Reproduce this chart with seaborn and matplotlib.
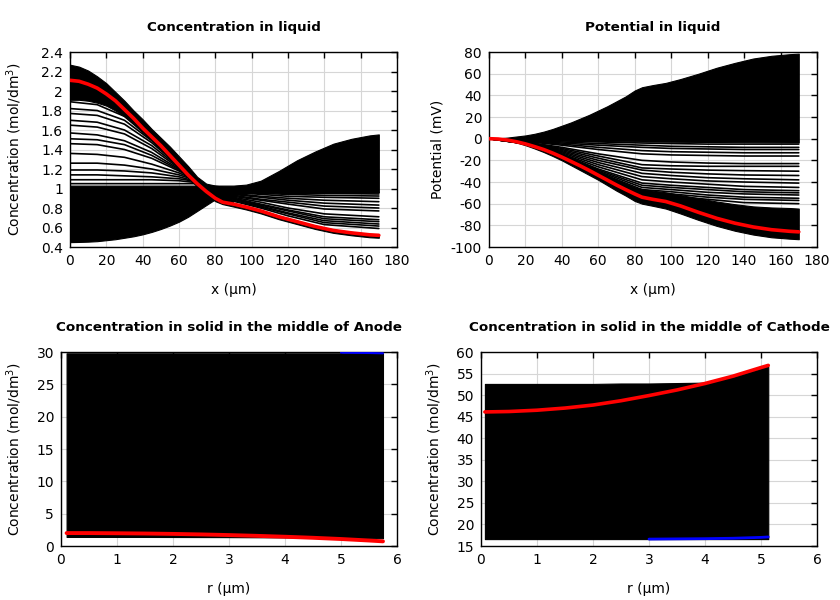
import numpy as np
import pandas as pd
import matplotlib
matplotlib.use("Agg")
import matplotlib.pyplot as plt
from matplotlib.ticker import MultipleLocator, FuncFormatter
import seaborn as sns

# ---- datos ----
# perfiles en el liquido (x en um)
x_fine = [0, 5, 10, 15, 20, 25, 30, 35, 40, 45, 50, 55, 60, 65, 70, 75, 80, 84,
          90, 97, 105, 115, 125, 135, 145, 155, 165, 170]

conc_red = [2.11, 2.10, 2.07, 2.03, 1.97, 1.90, 1.81, 1.72, 1.62, 1.53, 1.44, 1.34, 1.24, 1.14,
            1.05, 0.97, 0.90, 0.86, 0.84, 0.81, 0.77, 0.71, 0.66, 0.61, 0.57, 0.545, 0.525, 0.52]
conc_hi_top = [2.27, 2.25, 2.21, 2.15, 2.08, 1.99, 1.90, 1.80, 1.71, 1.61, 1.52, 1.43, 1.33, 1.23,
               1.12, 1.05, 1.03, 1.02, 0.85, 0.82, 0.78, 0.72, 0.67, 0.62, 0.58, 0.555, 0.535, 0.53]
conc_hi_bot = [1.91, 1.91, 1.90, 1.88, 1.85, 1.80, 1.74, 1.67, 1.58, 1.50, 1.41, 1.31, 1.21, 1.11,
               1.02, 0.94, 0.87, 0.84, 0.815, 0.785, 0.745, 0.685, 0.635, 0.585, 0.545, 0.52, 0.50, 0.495]
conc_lo_top = [1.03, 1.03, 1.03, 1.03, 1.03, 1.03, 1.03, 1.03, 1.03, 1.03, 1.03, 1.03, 1.03, 1.03,
               1.03, 1.03, 1.03, 1.03, 1.03, 1.04, 1.08, 1.18, 1.29, 1.38, 1.46, 1.51, 1.545, 1.555]
conc_lo_bot = [0.45, 0.452, 0.455, 0.46, 0.47, 0.48, 0.495, 0.51, 0.53, 0.555, 0.585, 0.62, 0.66, 0.71,
               0.77, 0.83, 0.89, 0.90, 0.93, 0.955, 0.965, 0.965, 0.963, 0.962, 0.961, 0.96, 0.96, 0.96]

x_conc_lines = [0, 15, 30, 45, 60, 70, 80, 90, 105, 120, 140, 170]
conc_lines = [
    [1.89, 1.86, 1.74, 1.50, 1.22, 1.06, 0.93, 0.87, 0.80, 0.72, 0.63, 0.59],
    [1.82, 1.80, 1.70, 1.49, 1.23, 1.07, 0.94, 0.88, 0.81, 0.74, 0.65, 0.615],
    [1.77, 1.75, 1.66, 1.47, 1.23, 1.07, 0.95, 0.89, 0.82, 0.75, 0.67, 0.636],
    [1.70, 1.68, 1.60, 1.44, 1.22, 1.08, 0.95, 0.90, 0.83, 0.77, 0.69, 0.66],
    [1.65, 1.63, 1.56, 1.41, 1.21, 1.08, 0.96, 0.90, 0.84, 0.78, 0.71, 0.68],
    [1.57, 1.55, 1.49, 1.37, 1.20, 1.08, 0.96, 0.91, 0.86, 0.80, 0.74, 0.71],
    [1.51, 1.50, 1.45, 1.34, 1.19, 1.08, 0.97, 0.92, 0.88, 0.84, 0.79, 0.77],
    [1.46, 1.45, 1.40, 1.31, 1.18, 1.08, 0.97, 0.93, 0.89, 0.86, 0.82, 0.80],
    [1.36, 1.35, 1.32, 1.25, 1.16, 1.08, 0.97, 0.94, 0.91, 0.88, 0.85, 0.83],
    [1.26, 1.26, 1.24, 1.20, 1.14, 1.08, 0.98, 0.95, 0.92, 0.90, 0.88, 0.865],
    [1.19, 1.19, 1.18, 1.16, 1.12, 1.07, 0.98, 0.96, 0.94, 0.92, 0.91, 0.90],
    [1.14, 1.14, 1.13, 1.12, 1.10, 1.07, 0.99, 0.96, 0.95, 0.94, 0.93, 0.923],
    [1.09, 1.09, 1.09, 1.09, 1.08, 1.06, 0.99, 0.97, 0.96, 0.95, 0.95, 0.944],
    [1.05, 1.05, 1.05, 1.05, 1.05, 1.05, 1.00, 0.97, 0.965, 0.96, 0.96, 0.96],
]

# potencial en el liquido (mV)
pot_red = [0, -0.3, -1.2, -2.8, -4.8, -7.3, -10, -13.3, -17, -21, -25, -29.3, -33.8, -38.3,
           -42.8, -47, -51, -54, -56, -58, -62, -68, -73.5, -78, -81.5, -84, -85.5, -86]
pot_hi_top = [0, 0.3, 1, 2, 3, 4.5, 6.5, 9, 12, 15, 18.5, 22, 26, 30, 34.5, 39, 44.5, 47.5,
              49.5, 51.5, 55, 60, 65.5, 70, 74, 76.5, 78, 78.5]
pot_hi_bot = [0, 0, -0.2, -0.4, -0.6, -0.8, -1, -1.2, -1.4, -1.6, -1.8, -2, -2.1, -2.2, -2.3,
              -2.4, -2.5, -2.6, -2.7, -2.8, -2.9, -3.0, -3.1, -3.2, -3.3, -3.4, -3.5, -3.5]
pot_lo_top = [0, -0.3, -1.0, -2.4, -4.2, -6.5, -9, -12, -15.3, -19, -22.5, -26.3, -30, -34, -38,
              -41.5, -45, -46.5, -48, -49.5, -52, -55, -58, -60.5, -62.5, -63.5, -64, -64.5]
pot_lo_bot = [0, -0.4, -1.6, -3.5, -6, -9, -12.3, -16, -20, -24.5, -29, -33.5, -38, -43, -48,
              -52.5, -57.5, -60, -62, -64.5, -69, -75, -80.5, -85, -88.5, -91, -92.3, -92.8]

x_pot_lines = [0, 20, 40, 60, 84, 100, 120, 140, 170]
pot_lines = [
    [0, -1, -2, -3, -4, -4.5, -5, -5, -5],
    [0, -1.5, -3, -4.5, -6, -7, -7.5, -8, -8],
    [0, -1.7, -4, -6, -8, -9, -9.5, -10, -10],
    [0, -2, -5, -8, -11, -12, -12.5, -13, -13],
    [0, -2.5, -6, -10, -14, -15, -15.5, -16, -16],
    [0, -3, -8, -14, -20, -21.5, -22.5, -23, -23],
    [0, -3.5, -9, -16, -24, -25, -25.5, -25.5, -25.5],
    [0, -3.8, -10, -18, -27, -28, -29, -29.5, -30],
    [0, -4, -11, -20, -29, -31, -32.5, -33.5, -34],
    [0, -4, -12, -22, -32, -34, -36, -37, -38],
    [0, -4.2, -13, -24, -35, -37, -39, -40, -41],
    [0, -4.3, -14, -26, -38, -40, -42, -44, -45],
    [0, -4.4, -14.5, -28, -41, -43, -45, -47, -48],
    [0, -4.5, -15, -29, -43, -45, -47, -49, -50],
    [0, -4.5, -15.5, -30, -45, -47, -49.5, -51, -52],
    [0, -4.6, -16, -31, -47, -49, -52, -54, -55],
    [0, -4.7, -16.5, -32, -49, -51, -54, -56, -57],
    [0, -4.8, -17, -33, -51, -53, -56, -59, -60],
]

# solido, anodo (r en um)
r_anode = [0.1, 0.5, 1, 1.5, 2, 2.5, 3, 3.5, 4, 4.5, 5, 5.5, 5.75]
anode_red = [2.0, 2.0, 1.97, 1.93, 1.87, 1.79, 1.69, 1.57, 1.43, 1.27, 1.08, 0.85, 0.72]
anode_top = [29.8] * 13
anode_bot = [1.4, 1.4, 1.4, 1.4, 1.39, 1.38, 1.37, 1.35, 1.33, 1.3, 1.27, 1.22, 1.2]
r_anode_blue = [5.0, 5.5, 5.75]
anode_blue = [29.9, 29.85, 29.8]

# solido, catodo
r_cathode = [0.07, 0.5, 1.0, 1.5, 2.0, 2.5, 3.0, 3.5, 4.0, 4.5, 5.0, 5.13]
cathode_red = [46.1, 46.2, 46.5, 47.0, 47.7, 48.7, 49.9, 51.2, 52.7, 54.4, 56.4, 56.9]
cathode_top = [52.6, 52.6, 52.6, 52.6, 52.6, 52.7, 52.7, 52.8, 52.9, 54.2, 56.2, 56.7]
cathode_bot = [16.6] * 12
r_cathode_blue = [3.0, 4.0, 4.5, 5.0, 5.13]
cathode_blue = [16.6, 16.7, 16.8, 17.0, 17.1]

ylabel_conc = 'Concentration (mol/dm$^3$)'


def lineas_df(x, curvas):
    n = len(curvas)
    return pd.DataFrame({
        'x': np.tile(x, n),
        'y': np.concatenate([np.array(c, dtype=float) for c in curvas]),
        'curva': np.repeat(np.arange(n), len(x)),
    })


def estilo(ax, xlim, ylim, xstep, ystep, titulo, xlabel, ylabel, ylab_x):
    ax.set_xlim(*xlim)
    ax.set_ylim(*ylim)
    ax.xaxis.set_major_locator(MultipleLocator(xstep))
    ax.yaxis.set_major_locator(MultipleLocator(ystep))
    fmt = FuncFormatter(lambda v, p: '%g' % round(v, 6))
    ax.xaxis.set_major_formatter(fmt)
    ax.yaxis.set_major_formatter(fmt)
    ax.grid(True, color='#d6d6d6', lw=0.8)
    ax.set_axisbelow(True)
    ax.tick_params(direction='in', top=True, right=True, length=4, width=1,
                   labelsize=10, pad=5, colors='black')
    for s in ax.spines.values():
        s.set_color('black')
        s.set_linewidth(1.0)
    ax.set_title(titulo, fontsize=9.7, fontweight='bold', pad=15, color='black')
    ax.set_xlabel(xlabel, fontsize=10, labelpad=11, color='black')
    ax.set_ylabel(ylabel, fontsize=10, color='black')
    ax.yaxis.set_label_coords(ylab_x, 0.5)


sns.set_style("white")
plt.rcParams['font.family'] = ['DejaVu Sans']
plt.rcParams['text.color'] = 'black'

fig = plt.figure(figsize=(8.4, 6.0), dpi=100)
ax1 = fig.add_axes([0.0833, 0.5883, 0.3893, 0.325])
ax2 = fig.add_axes([0.5821, 0.5883, 0.3905, 0.325])
ax3 = fig.add_axes([0.0726, 0.09, 0.4, 0.3233])
ax4 = fig.add_axes([0.5726, 0.09, 0.4, 0.3233])

# concentracion en el liquido
ax1.fill_between(x_fine, conc_lo_bot, conc_lo_top, color='black', lw=0.8, zorder=2)
ax1.fill_between(x_fine, conc_hi_bot, conc_hi_top, color='black', lw=0.8, zorder=2)
sns.lineplot(data=lineas_df(x_conc_lines, conc_lines), x='x', y='y', units='curva',
             estimator=None, color='black', lw=1.2, legend=False, ax=ax1, zorder=3)
sns.lineplot(x=x_fine, y=conc_red, color='red', lw=2.6, ax=ax1, zorder=4)
estilo(ax1, (0, 180), (0.4, 2.4), 20, 0.2, 'Concentration in liquid', 'x (μm)',
       ylabel_conc, -0.141)

# potencial en el liquido
ax2.fill_between(x_fine, pot_hi_bot, pot_hi_top, color='black', lw=0.8, zorder=2)
ax2.fill_between(x_fine, pot_lo_bot, pot_lo_top, color='black', lw=0.8, zorder=2)
sns.lineplot(data=lineas_df(x_pot_lines, pot_lines), x='x', y='y', units='curva',
             estimator=None, color='black', lw=1.2, legend=False, ax=ax2, zorder=3)
sns.lineplot(x=x_fine, y=pot_red, color='red', lw=2.6, ax=ax2, zorder=4)
estilo(ax2, (0, 180), (-100, 80), 20, 20, 'Potential in liquid', 'x (μm)',
       'Potential (mV)', -0.137)

# solido anodo
ax3.fill_between(r_anode, anode_bot, anode_top, color='black', lw=0.8, zorder=2)
sns.lineplot(x=r_anode_blue, y=anode_blue, color='blue', lw=1.5, ax=ax3, zorder=3)
sns.lineplot(x=r_anode, y=anode_red, color='red', lw=2.8, ax=ax3, zorder=4)
estilo(ax3, (0, 6), (0, 30), 1, 5, 'Concentration in solid in the middle of Anode', 'r (μm)',
       ylabel_conc, -0.11)

# solido catodo
ax4.fill_between(r_cathode, cathode_bot, cathode_top, color='black', lw=0.8, zorder=2)
sns.lineplot(x=r_cathode_blue, y=cathode_blue, color='blue', lw=2, ax=ax4, zorder=3)
sns.lineplot(x=r_cathode, y=cathode_red, color='red', lw=2.6, ax=ax4, zorder=4)
estilo(ax4, (0, 6), (15, 60), 1, 5, 'Concentration in solid in the middle of Cathode', 'r (μm)',
       ylabel_conc, -0.11)

fig.savefig('out.png', dpi=100)
